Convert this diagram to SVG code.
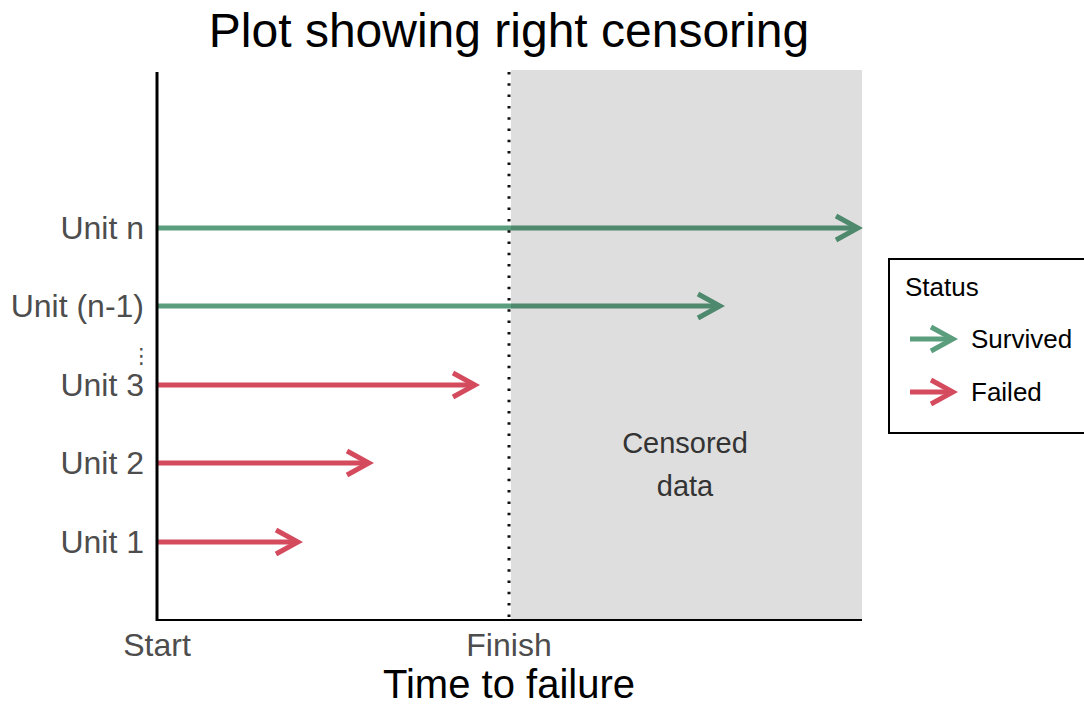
<svg xmlns="http://www.w3.org/2000/svg" width="1084" height="707" viewBox="0 0 1084 707">
<style>
text{font-family:"Liberation Sans",Arial,sans-serif}
.tick{font-size:32px;fill:#4d4d4d}
.leg{font-size:26px;fill:#000}
.red{stroke:#d44b5e;stroke-width:5;fill:none}
.green{stroke:#5a9e7e;stroke-width:5;fill:none}
</style>
<defs>
<marker id="hr" markerUnits="userSpaceOnUse" markerWidth="32" markerHeight="32" viewBox="0 0 32 32" refX="27" refY="16" orient="auto">
<path d="M5,4 L27,16 L5,28" fill="none" stroke="#d44b5e" stroke-width="5"/>
</marker>
<marker id="hg" markerUnits="userSpaceOnUse" markerWidth="32" markerHeight="32" viewBox="0 0 32 32" refX="27" refY="16" orient="auto">
<path d="M5,4 L27,16 L5,28" fill="none" stroke="#5a9e7e" stroke-width="5"/>
</marker>
</defs>
<rect width="1084" height="707" fill="#fff"/>
<text x="509" y="47" text-anchor="middle" font-size="48">Plot showing right censoring</text>
<g id="connectors">
<line id="unit-n" class="green" x1="157" y1="228" x2="858" y2="228" marker-end="url(#hg)"/>
<line id="unit-n1" class="green" x1="157" y1="306" x2="720" y2="306" marker-end="url(#hg)"/>
<line id="unit-3" class="red" x1="157" y1="385" x2="475" y2="385" marker-end="url(#hr)"/>
<line id="unit-2" class="red" x1="157" y1="463" x2="369" y2="463" marker-end="url(#hr)"/>
<line id="unit-1" class="red" x1="157" y1="542" x2="298" y2="542" marker-end="url(#hr)"/>
</g>
<g id="censored">
<rect x="511" y="70" width="351" height="550" fill="#000" fill-opacity="0.13"/>
<text x="685" y="453" text-anchor="middle" font-size="29" fill="#333">Censored</text>
<text x="685" y="496" text-anchor="middle" font-size="29" fill="#333">data</text>
</g>
<line x1="509" y1="72" x2="509" y2="620" stroke="#111" stroke-width="3" stroke-dasharray="2.5 8.8"/>
<g id="axes" stroke="#000">
<line x1="157" y1="72" x2="157" y2="621" stroke-width="3"/>
<line x1="156" y1="620" x2="862" y2="620" stroke-width="2"/>
</g>
<g id="ylabels" text-anchor="end">
<text class="tick" x="144" y="239">Unit n</text>
<text class="tick" x="144" y="317">Unit (n-1)</text>
<text x="152" y="363" font-size="21" fill="#4d4d4d" style="font-family:'DejaVu Sans',sans-serif">⋮</text>
<text class="tick" x="144" y="396">Unit 3</text>
<text class="tick" x="144" y="474">Unit 2</text>
<text class="tick" x="144" y="553">Unit 1</text>
</g>
<g id="xlabels" text-anchor="middle">
<text class="tick" x="157" y="656">Start</text>
<text class="tick" x="509" y="656">Finish</text>
<text x="509" y="698" font-size="40" fill="#000">Time to failure</text>
</g>
<g id="legend">
<rect x="889" y="259" width="210" height="174" fill="#fff" stroke="#000" stroke-width="2"/>
<text class="leg" x="905" y="296">Status</text>
<line class="green" x1="910" y1="339" x2="953" y2="339" marker-end="url(#hg)"/>
<text class="leg" x="971" y="348">Survived</text>
<line class="red" x1="910" y1="392" x2="953" y2="392" marker-end="url(#hr)"/>
<text class="leg" x="971" y="401">Failed</text>
</g>
</svg>
